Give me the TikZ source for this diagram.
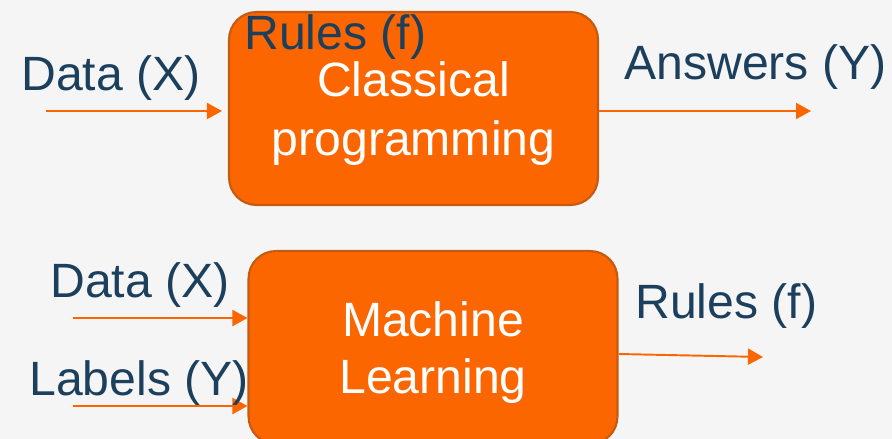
\documentclass[tikz,border=0pt]{standalone}
\usepackage{fontspec}
\setmainfont{Liberation Sans}
\usetikzlibrary{arrows.meta,positioning}
\definecolor{bgGray}{HTML}{F5F5F5}
\definecolor{mlOrange}{HTML}{FB6600}
\definecolor{mlEdge}{HTML}{C55A11}
\definecolor{txtBlue}{HTML}{1B3F5C}

\begin{document}
\begin{tikzpicture}[x=0.02cm,y=-0.02cm,
  box/.style={draw=mlEdge,fill=mlOrange,line width=1.2pt,rounded corners=0.55cm,minimum width=7.38cm,minimum height=3.86cm},
  inside/.style={align=center,text=white,yshift=-0.1cm,font=\fontsize{27.4}{34}\selectfont},
  lbl/.style={anchor=base west,text=txtBlue,inner sep=0pt,font=\fontsize{27.4}{32}\selectfont},
  arr/.style={-{Triangle[length=0.3cm,width=0.32cm]},draw=mlOrange,line width=1.1pt}]
\fill[bgGray] (0,0) rectangle (892,439);
\useasboundingbox (0,0) rectangle (892,439);
\clip (0,0) rectangle (892,439);
% boxes
\node[box] (cp) at (413.5,108.5) {};
\node[inside] (cpText) at (cp) {Classical\\programming};
\node[box] (ml) at (433,347.5) {};
\node[inside,font=\fontsize{27.4}{32}\selectfont] (mlText) at (ml) {Machine\\Learning};
% arrow ends
\coordinate (inA) at (46,111);
\coordinate (outA) at (811,111);
\coordinate (inB) at (73,318);
\coordinate (inC) at (73,406);
\coordinate (outB) at (763,357);
\draw[arr,shorten >=0.12cm] (inA) -- (inA -| cp.west);
\draw[arr] (cp.east |- outA) -- (outA);
\draw[arr] (inB) -- (inB -| ml.west);
\draw[arr] (inC) -- (inC -| ml.west);
\draw[arr] ([yshift=-0.13cm]ml.east) -- (outB);
% labels
\node[lbl] (dataA) at (21,91) {Data (X)};
\node[lbl] (rulesA) at (244,50) {Rules (f)};
\node[lbl] (ans) at (624,80) {Answers (Y)};
\node[lbl] (dataB) at (50,297) {Data (X)};
\node[lbl] (labB) at (29,395) {Labels (Y)};
\node[lbl] (rulesB) at (635,318) {Rules (f)};
\end{tikzpicture}
\end{document}
